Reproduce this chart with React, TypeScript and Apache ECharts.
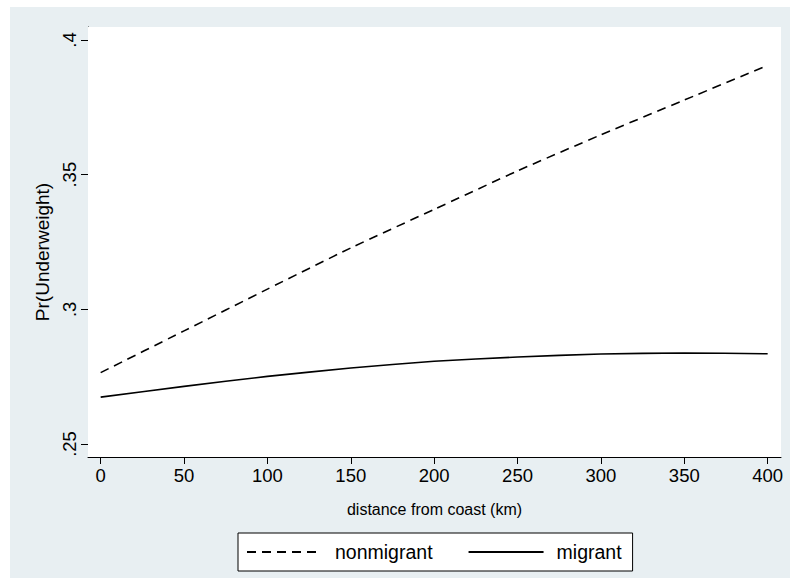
import React, { useEffect, useRef } from "react";
import * as echarts from "echarts";

const distances = [0, 50, 100, 150, 200, 250, 300, 350, 400];
const nonmigrant = [0.2765, 0.292, 0.3075, 0.3228, 0.3371, 0.3514, 0.3648, 0.3777, 0.3906];
const migrant = [0.2674, 0.2714, 0.2751, 0.2782, 0.2807, 0.2823, 0.2834, 0.2838, 0.2835];
const xTicks = [0, 50, 100, 150, 200, 250, 300, 350, 400];
const yTicks = [0.25, 0.3, 0.35, 0.4];
const yTickLabels = [".25", ".3", ".35", ".4"];

const FONT = "'Liberation Sans', Arial, Helvetica, sans-serif";

export default function App() {
  const ref = useRef<HTMLDivElement>(null);
  useEffect(() => {
    const chart = echarts.init(ref.current!, null, { renderer: "svg" });
    chart.setOption({
      animation: false,
      backgroundColor: "#ffffff",
      textStyle: { fontFamily: FONT },
      graphic: [
        {
          type: "rect",
          z: -100,
          silent: true,
          shape: { x: 10, y: 7, width: 780, height: 571 },
          style: { fill: "#e8eff2" },
        },
      ],
      grid: {
        left: 88,
        top: 27,
        right: 9,
        bottom: 121,
        show: true,
        backgroundColor: "#ffffff",
        borderWidth: 0,
        z: 1,
      },
      legend: {
        left: 238,
        top: 533,
        orient: "horizontal",
        backgroundColor: "#ffffff",
        borderColor: "#000000",
        borderWidth: 1,
        borderRadius: 0,
        padding: [9, 11, 9, 8],
        itemWidth: 75,
        itemHeight: 19,
        itemGap: 35,
        itemStyle: { opacity: 0 },
        textStyle: { fontSize: 19.5, color: "#000", fontFamily: FONT, padding: [0, 0, 0, 8] },
        data: ["nonmigrant", "migrant"],
      },
      xAxis: {
        type: "value",
        min: -7.6,
        max: 408,
        name: "distance from coast (km)",
        nameLocation: "middle",
        nameGap: 44,
        nameTextStyle: { fontSize: 16, color: "#000", fontFamily: FONT },
        axisLine: { show: true, onZero: false, lineStyle: { color: "#000", width: 1 } },
        axisTick: { show: true, length: 7, customValues: xTicks, lineStyle: { color: "#000" } },
        axisLabel: {
          customValues: xTicks,
          fontSize: 18.5,
          color: "#000",
          margin: 9,
          fontFamily: FONT,
        },
        splitLine: { show: false },
      },
      yAxis: {
        type: "value",
        min: 0.24517,
        max: 0.40483,
        name: "Pr(Underweight)",
        nameLocation: "middle",
        nameGap: 35,
        nameRotate: 90,
        nameTextStyle: { fontSize: 19, color: "#000", fontFamily: FONT, padding: [0, 20, 0, 0] },
        axisLine: { show: true, onZero: false, lineStyle: { color: "#000", width: 1 } },
        axisTick: { show: true, length: 7, customValues: yTicks, lineStyle: { color: "#000" } },
        axisLabel: {
          customValues: yTicks,
          rotate: 90,
          fontSize: 18.5,
          color: "#000",
          margin: 9,
          fontFamily: FONT,
          formatter: (v: number) => {
            const i = yTicks.findIndex((t) => Math.abs(t - v) < 1e-6);
            return i >= 0 ? yTickLabels[i] : "";
          },
        },
        splitLine: { show: true, lineStyle: { color: "#e4ecee", width: 1.5 } },
      },
      series: [
        {
          name: "nonmigrant",
          type: "line",
          data: distances.map((d, i) => [d, nonmigrant[i]]),
          symbol: "none",
          smooth: 0.2,
          lineStyle: { color: "#000", width: 1.6, type: [9, 6] },
          itemStyle: { color: "#000" },
          z: 3,
        },
        {
          name: "migrant",
          type: "line",
          data: distances.map((d, i) => [d, migrant[i]]),
          symbol: "none",
          smooth: 0.2,
          lineStyle: { color: "#000", width: 1.6, type: "solid" },
          itemStyle: { color: "#000" },
          z: 3,
        },
      ],
    });
    return () => chart.dispose();
  }, []);
  return (
    <div
      ref={ref}
      style={{ position: "fixed", left: 0, top: 0, width: 790, height: 578 }}
    />
  );
}
